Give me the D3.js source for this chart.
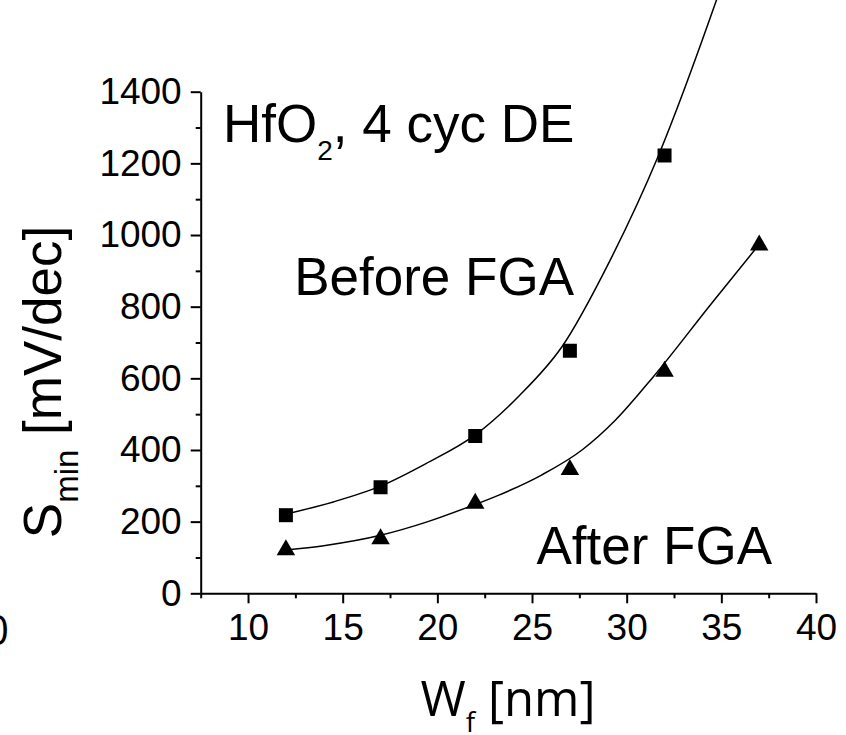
<!DOCTYPE html>
<html>
<head>
<meta charset="utf-8">
<script src="https://cdn.jsdelivr.net/npm/d3@7"></script>
<style>
  html, body { margin: 0; padding: 0; background: #fff; }
  svg { display: block; }
  text { white-space: pre; }
</style>
</head>
<body>
<script>
// ---- data ----
const xMajorTicks = [10, 15, 20, 25, 30, 35, 40];
const xMinorTicks = [7.5, 12.5, 17.5, 22.5, 27.5, 32.5, 37.5];
const yMajorTicks = [0, 200, 400, 600, 800, 1000, 1200, 1400];
const yMinorTicks = [100, 300, 500, 700, 900, 1100, 1300];

// Before FGA (squares)
const beforeW = [12, 17, 22, 27, 32];
const beforeS = [218, 296, 439, 677, 1222];
// After FGA (triangles)
const afterW = [12, 17, 22, 27, 32, 37];
const afterS = [121, 152, 251, 345, 619, 972];

// fitted curves, points
const beforeFitW = [12, 14.5, 17, 19.4, 22, 24.3, 26.58, 29.13, 31.68, 34.74, 35.3];
const beforeFitS = [221, 255, 299, 362, 442, 550, 688, 930, 1222, 1655, 1740];
const afterFitW = [12, 14, 17, 19.5, 21.5, 23.25, 25.5, 27.64, 29.4, 31.4, 34.48, 36.76];
const afterFitS = [121, 133, 162, 200, 238, 274, 330, 400, 483, 604, 809, 958];

// ---- drawing ----
const W = 846, H = 735;
const svg = d3.select("body").append("svg").attr("width", W).attr("height", H);

const x = d3.scaleLinear().domain([7.5, 40]).range([200.7, 816]);
const y = d3.scaleLinear().domain([0, 1400]).range([593.3, 91.7]);

const axisFont = "'Liberation Sans', Arial, Helvetica, sans-serif";

// x axis
const gx = svg.append("g").attr("transform", `translate(0,${y(0)})`);
gx.call(d3.axisBottom(x).tickValues(xMajorTicks).tickFormat(d3.format("d"))
  .tickSize(10).tickSizeOuter(0).tickPadding(10));
gx.append("g").call(d3.axisBottom(x).tickValues(xMinorTicks).tickFormat("")
  .tickSize(5).tickSizeOuter(0)).select(".domain").remove();

// y axis
const gy = svg.append("g").attr("transform", `translate(${x(7.5)},0)`);
gy.call(d3.axisLeft(y).tickValues(yMajorTicks).tickFormat(d3.format("d"))
  .tickSize(10).tickSizeOuter(0).tickPadding(9));
gy.append("g").call(d3.axisLeft(y).tickValues(yMinorTicks).tickFormat("")
  .tickSize(5).tickSizeOuter(0)).select(".domain").remove();

svg.selectAll(".domain").attr("stroke", "#000").attr("stroke-width", 2);
svg.selectAll(".tick line").attr("stroke", "#000").attr("stroke-width", 2);
svg.selectAll(".tick text").attr("fill", "#000")
  .style("font-family", axisFont).style("font-size", "37px");

// curves
const line = d3.line().x(d => x(d[0])).y(d => y(d[1])).curve(d3.curveMonotoneX);
const beforeFit = beforeFitW.map((w, i) => [w, beforeFitS[i]]);
const afterFit = afterFitW.map((w, i) => [w, afterFitS[i]]);
svg.append("path").datum(beforeFit).attr("d", line)
  .attr("fill", "none").attr("stroke", "#000").attr("stroke-width", 1.5);
svg.append("path").datum(afterFit).attr("d", line)
  .attr("fill", "none").attr("stroke", "#000").attr("stroke-width", 1.5);

// markers
const sq = 14;
svg.append("g").selectAll("rect").data(beforeW.map((w, i) => [w, beforeS[i]]))
  .join("rect")
  .attr("x", d => x(d[0]) - sq / 2).attr("y", d => y(d[1]) - sq / 2)
  .attr("width", sq).attr("height", sq).attr("fill", "#000");

const tw = 18.5, th = 16;
svg.append("g").selectAll("path").data(afterW.map((w, i) => [w, afterS[i]]))
  .join("path")
  .attr("d", d => {
    const cx = x(d[0]), cy = y(d[1]);
    return `M${cx},${cy - th * 2 / 3}L${cx + tw / 2},${cy + th / 3}L${cx - tw / 2},${cy + th / 3}Z`;
  })
  .attr("fill", "#000");

// annotations
const ann = svg.append("g").style("font-family", axisFont).attr("fill", "#000");
const t1 = ann.append("text").attr("x", 223).attr("y", 141.7).style("font-size", "53px");
t1.append("tspan").text("HfO");
t1.append("tspan").attr("dy", 18).style("font-size", "28px").text("2");
t1.append("tspan").attr("dy", -18).text(", 4 cyc DE");

ann.append("text").attr("x", 574).attr("y", 295).attr("text-anchor", "end")
  .style("font-size", "53px").text("Before FGA");
ann.append("text").attr("x", 772).attr("y", 564).attr("text-anchor", "end")
  .style("font-size", "53px").text("After FGA");

// y axis title
const yt = svg.append("text")
  .attr("transform", "translate(61,382) rotate(-90)")
  .attr("text-anchor", "middle")
  .style("font-family", axisFont).style("font-size", "53px").attr("fill", "#000");
yt.append("tspan").text("S");
yt.append("tspan").attr("dy", 17).style("font-size", "33px").text("min");
yt.append("tspan").attr("dy", -17).text(" [mV/dec]");

// x axis title
const titleFont = "'Open Sans', 'Noto Sans', sans-serif";
const xt = svg.append("text").attr("x", 508).attr("y", 716)
  .attr("text-anchor", "middle")
  .style("font-family", titleFont).style("font-size", "49px").attr("fill", "#000");
xt.append("tspan").text("W");
xt.append("tspan").attr("dy", 16).style("font-size", "28px").text("f");
xt.append("tspan").attr("dy", -16).text(" [nm]");

// stray clipped label at the far left edge
svg.append("text").attr("x", 9).attr("y", 645).attr("text-anchor", "end")
  .style("font-family", titleFont).style("font-size", "42px").attr("fill", "#000")
  .text("0");
</script>
</body>
</html>
